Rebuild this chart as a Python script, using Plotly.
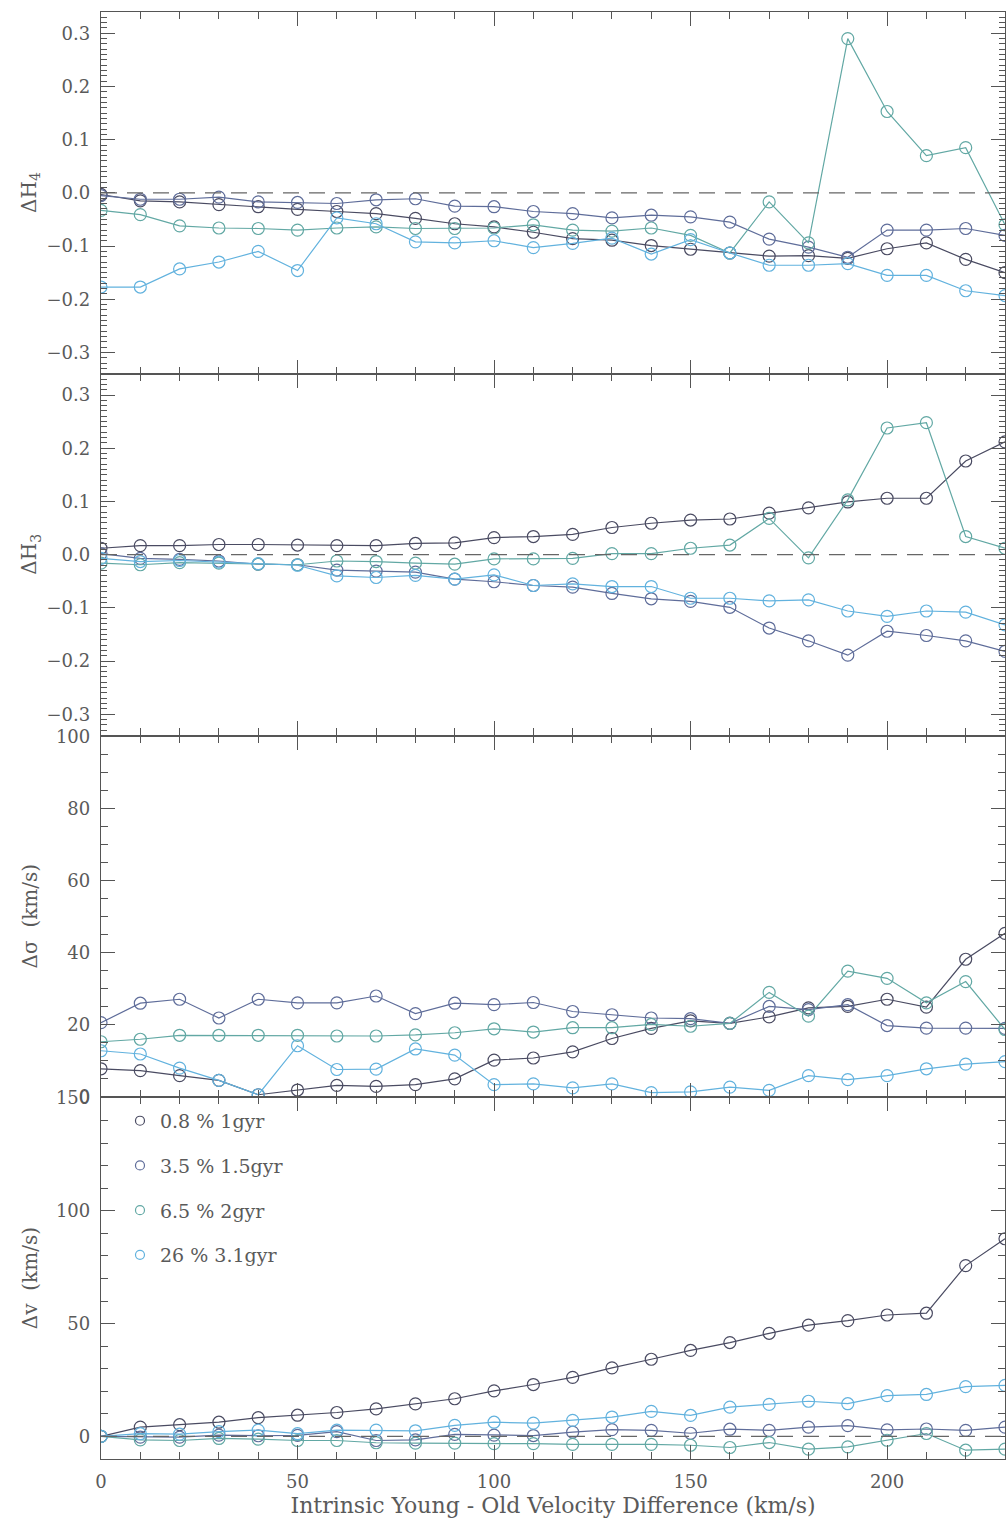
import plotly.graph_objects as go
from plotly.subplots import make_subplots

# ---------------- data ----------------
vel_diff = [0, 10, 20, 30, 40, 50, 60, 70, 80, 90, 100, 110,
            120, 130, 140, 150, 160, 170, 180, 190, 200, 210, 220, 230]

series_names = ["0.8 % 1gyr", "3.5 % 1.5gyr", "6.5 % 2gyr", "26 % 3.1gyr"]

# Delta H4
h4_s1 = [-0.003, -0.015, -0.017, -0.022, -0.026, -0.031, -0.035, -0.039, -0.048, -0.058, -0.064, -0.074,
         -0.086, -0.089, -0.099, -0.106, -0.113, -0.119, -0.118, -0.123, -0.105, -0.094, -0.125, -0.150]
h4_s2 = [-0.005, -0.012, -0.012, -0.008, -0.017, -0.018, -0.020, -0.013, -0.011, -0.025, -0.026, -0.035,
         -0.039, -0.047, -0.042, -0.045, -0.055, -0.087, -0.102, -0.121, -0.070, -0.070, -0.067, -0.080]
h4_s3 = [-0.033, -0.041, -0.062, -0.066, -0.067, -0.070, -0.066, -0.064, -0.067, -0.067, -0.066, -0.060,
         -0.070, -0.072, -0.066, -0.080, -0.113, -0.017, -0.094, 0.290, 0.153, 0.070, 0.085, -0.060]
h4_s4 = [-0.177, -0.177, -0.143, -0.130, -0.110, -0.146, -0.047, -0.058, -0.092, -0.094, -0.090, -0.103,
         -0.095, -0.085, -0.115, -0.088, -0.113, -0.136, -0.136, -0.133, -0.155, -0.155, -0.184, -0.193]

# Delta H3
h3_s1 = [0.012, 0.017, 0.017, 0.019, 0.019, 0.018, 0.017, 0.017, 0.021, 0.022, 0.032, 0.034,
         0.038, 0.051, 0.059, 0.065, 0.067, 0.078, 0.088, 0.099, 0.106, 0.106, 0.176, 0.212]
h3_s2 = [0.002, -0.007, -0.009, -0.012, -0.018, -0.019, -0.029, -0.031, -0.033, -0.046, -0.051, -0.058,
         -0.061, -0.073, -0.083, -0.088, -0.099, -0.138, -0.162, -0.189, -0.144, -0.152, -0.162, -0.182]
h3_s3 = [-0.016, -0.019, -0.015, -0.016, -0.018, -0.019, -0.012, -0.013, -0.016, -0.018, -0.008, -0.008,
         -0.007, 0.002, 0.002, 0.012, 0.018, 0.068, -0.006, 0.103, 0.238, 0.248, 0.034, 0.012]
h3_s4 = [-0.007, -0.013, -0.011, -0.014, -0.017, -0.020, -0.040, -0.043, -0.039, -0.046, -0.038, -0.058,
         -0.055, -0.060, -0.060, -0.082, -0.082, -0.087, -0.085, -0.106, -0.116, -0.106, -0.108, -0.132]

# Delta sigma (km/s)
sig_s1 = [7.7, 7.2, 5.8, 4.5, 0.5, 1.8, 3.1, 2.8, 3.3, 4.9, 10.1, 10.7,
          12.4, 16.1, 18.9, 21.0, 20.3, 22.1, 24.6, 25.0, 27.0, 24.8, 38.1, 45.3]
sig_s2 = [20.5, 25.9, 27.0, 21.8, 27.0, 26.0, 26.0, 27.9, 23.0, 25.9, 25.5, 26.1,
          23.6, 22.7, 21.8, 21.6, 20.3, 25.0, 24.1, 25.5, 19.7, 19.0, 19.0, 18.9]
sig_s3 = [15.2, 15.9, 17.0, 17.0, 17.0, 17.0, 16.8, 16.8, 17.1, 17.7, 18.8, 17.9,
          19.1, 19.1, 20.0, 19.5, 20.3, 28.9, 22.3, 34.8, 32.8, 26.0, 31.9, 18.6]
sig_s4 = [12.7, 11.8, 7.9, 4.5, 0.5, 14.1, 7.5, 7.6, 13.2, 11.5, 3.3, 3.5,
          2.4, 3.5, 1.1, 1.3, 2.6, 1.7, 5.8, 4.7, 5.8, 7.7, 9.0, 9.7]

# Delta v (km/s)
v_s1 = [0.0, 4.1, 5.2, 6.3, 8.3, 9.4, 10.6, 12.2, 14.4, 16.7, 20.2, 23.0,
        26.2, 30.4, 34.2, 38.1, 41.6, 45.7, 49.3, 51.3, 53.8, 54.6, 75.7, 87.6]
v_s2 = [0.0, -0.3, -0.3, 0.6, 0.3, 0.5, 2.1, -1.8, -1.5, 0.9, 0.6, 0.4,
        1.9, 3.0, 2.7, 1.4, 3.2, 2.7, 4.1, 4.8, 2.9, 3.3, 2.7, 4.1]
v_s3 = [0.0, -1.5, -1.8, -0.9, -1.2, -1.8, -1.8, -2.8, -3.0, -3.0, -3.2, -3.2,
        -3.5, -3.5, -3.5, -3.9, -4.9, -2.7, -5.6, -4.6, -1.7, 1.3, -6.1, -5.6]
v_s4 = [0.0, 1.2, 1.0, 2.1, 2.8, 1.2, 2.8, 2.8, 2.5, 4.9, 6.3, 5.9,
        7.1, 8.6, 11.1, 9.3, 13.0, 14.2, 15.6, 14.5, 18.1, 18.6, 22.1, 22.6]

series_colors = ["#4a4b62", "#5f6d9a", "#62a8a4", "#62b2de"]

panels = [
    ("ΔH<sub>4</sub>", [h4_s1, h4_s2, h4_s3, h4_s4]),
    ("ΔH<sub>3</sub>", [h3_s1, h3_s2, h3_s3, h3_s4]),
    ("Δσ\u00a0 (km/s)", [sig_s1, sig_s2, sig_s3, sig_s4]),
    ("Δv\u00a0 (km/s)", [v_s1, v_s2, v_s3, v_s4]),
]

FONT = "DejaVu Serif"
TXT = "#5a5a5a"
AX = "#555555"

fig = make_subplots(rows=4, cols=1, shared_xaxes=True, vertical_spacing=0)

for r, (title, series) in enumerate(panels, start=1):
    for i, ys in enumerate(series):
        fig.add_trace(go.Scatter(
            x=vel_diff, y=ys, mode="lines+markers",
            line=dict(color=series_colors[i], width=1.2),
            marker=dict(symbol="circle-open", size=12, color=series_colors[i],
                        line=dict(width=1.2, color=series_colors[i])),
            showlegend=False, hoverinfo="skip"), row=r, col=1)

# legend-only entries
for i, name in enumerate(series_names):
    fig.add_trace(go.Scatter(
        x=[None], y=[None], mode="markers", name=name, legendgroup=name,
        marker=dict(symbol="circle-open", size=9, color=series_colors[i],
                    line=dict(width=1.2, color=series_colors[i]))), row=4, col=1)

# dashed zero reference lines
for r in (1, 2, 4):
    fig.add_hline(y=0, line=dict(color="#666666", width=1.2, dash="16px,10px"), row=r, col=1)

common = dict(showline=True, linecolor=AX, linewidth=1.3, mirror="allticks",
              ticks="inside", tickcolor=AX, tickwidth=1, ticklen=14,
              showgrid=False, zeroline=False,
              tickfont=dict(family=FONT, size=18, color=TXT))

for r in range(1, 5):
    fig.update_xaxes(range=[0, 230], tick0=0, dtick=50,
                     minor=dict(dtick=10, ticklen=7, ticks="inside", tickcolor=AX, showgrid=False),
                     showticklabels=(r == 4), ticklabelstandoff=6, **common, row=r, col=1)

fig.update_xaxes(title=dict(text="Intrinsic Young - Old Velocity Difference (km/s)",
                            font=dict(family=FONT, size=22, color=TXT), standoff=6),
                 row=4, col=1)

hrange = [-0.34, 0.34]
fig.update_yaxes(range=hrange, tick0=0, dtick=0.1, tickformat=".1f",
                 minor=dict(dtick=0.01, ticklen=6, ticks="inside", tickcolor=AX, showgrid=False),
                 ticklabelstandoff=6, **common, row=1, col=1)
fig.update_yaxes(range=hrange, tick0=0, dtick=0.1, tickformat=".1f",
                 minor=dict(dtick=0.01, ticklen=6, ticks="inside", tickcolor=AX, showgrid=False),
                 ticklabelstandoff=6, **common, row=2, col=1)
fig.update_yaxes(range=[-0.2, 100.2], tick0=0, dtick=20,
                 minor=dict(dtick=5, ticklen=7, ticks="inside", tickcolor=AX, showgrid=False),
                 ticklabelstandoff=6, **common, row=3, col=1)
fig.update_yaxes(range=[-10, 150.3], tick0=0, dtick=50,
                 minor=dict(dtick=10, ticklen=7, ticks="inside", tickcolor=AX, showgrid=False),
                 ticklabelstandoff=6, **common, row=4, col=1)

# y-axis titles
yrefs = ["y domain", "y2 domain", "y3 domain", "y4 domain"]
for (title, _), yref in zip(panels, yrefs):
    fig.add_annotation(text=title, xref="paper", yref=yref, x=-0.0785, y=0.5,
                       xanchor="center", yanchor="middle", textangle=-90, showarrow=False,
                       font=dict(family=FONT, size=20, color=TXT))

fig.update_layout(
    width=1006, height=1523,
    margin=dict(l=101, r=1, t=12, b=64),
    paper_bgcolor="white", plot_bgcolor="white",
    legend=dict(x=0.021, y=0.2468, xanchor="left", yanchor="top",
                bgcolor="rgba(0,0,0,0)", tracegroupgap=17,
                font=dict(family=FONT, size=19, color=TXT)),
    showlegend=True,
)

fig.write_html("out.html")
